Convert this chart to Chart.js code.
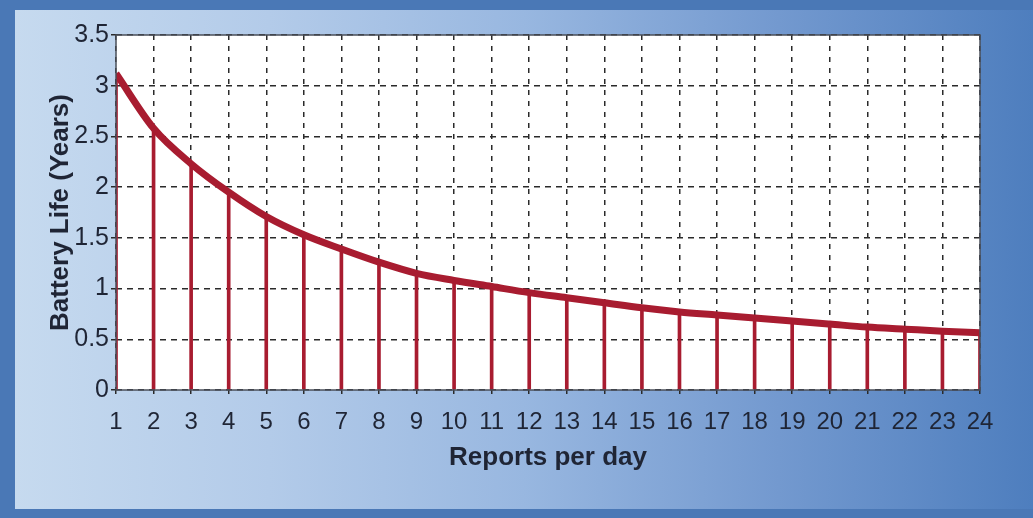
<!DOCTYPE html>
<html>
<head>
<meta charset="utf-8">
<script src="https://cdn.jsdelivr.net/npm/chart.js@4/dist/chart.umd.min.js"></script>
<style>
  html, body { margin: 0; padding: 0; }
  body { width: 1033px; height: 518px; background: #4a78b6; position: relative; overflow: hidden; font-family: "Liberation Sans", Arial, sans-serif; }
  .panel {
    position: absolute; left: 15px; top: 10px; width: 1018px; height: 499px;
    background: linear-gradient(to right, #c6daef 0%, #b3cbe9 25%, #98b7e0 50%, #7399cf 75%, #4e7ebe 100%);
  }
  .wrap { position: absolute; left: 0; top: 0; width: 1033px; height: 518px; }
</style>
</head>
<body>
<div class="panel"></div>
<div class="wrap"><canvas id="chart" width="1033" height="518"></canvas></div>
<script>
// reports per day -> battery life (years)
const reportsPerDay = [1, 2, 3, 4, 5, 6, 7, 8, 9, 10, 11, 12, 13, 14, 15, 16, 17, 18, 19, 20, 21, 22, 23, 24];
const batteryYears = [3.12, 2.58, 2.23, 1.95, 1.71, 1.53, 1.39, 1.26, 1.15, 1.08, 1.02, 0.96, 0.91, 0.86, 0.81, 0.77, 0.74, 0.71, 0.68, 0.65, 0.62, 0.60, 0.58, 0.565];
const yTicks = [0, 0.5, 1, 1.5, 2, 2.5, 3, 3.5];

const RED = "#a81c30";
const INK = "#1f2535";

const points = reportsPerDay.map((x, i) => ({ x, y: batteryYears[i] }));

// white plot area + frame on all four sides
const frame = {
  id: "frame",
  beforeDraw(chart) {
    const { ctx, chartArea: a } = chart;
    ctx.save();
    ctx.fillStyle = "#ffffff";
    ctx.fillRect(a.left, a.top, a.right - a.left, a.bottom - a.top);
    ctx.restore();
  },
  afterDatasetsDraw(chart) {
    const { ctx, chartArea: a } = chart;
    ctx.save();
    ctx.strokeStyle = "#4a4f5a";
    ctx.lineWidth = 1.5;
    ctx.strokeRect(a.left, a.top, a.right - a.left, a.bottom - a.top);
    ctx.restore();
  },
};

new Chart(document.getElementById("chart"), {
  data: {
    datasets: [
      {
        type: "bar", data: points, backgroundColor: RED, barThickness: 3,
        borderWidth: 0, order: 2,
      },
      {
        type: "line", data: points, borderColor: RED, borderWidth: 7,
        pointRadius: 0, cubicInterpolationMode: "monotone", fill: false, order: 1,
      },
    ],
  },
  options: {
    responsive: false,
    animation: false,
    layout: { padding: { left: 41, top: 35, right: 53, bottom: 41 } },
    plugins: { legend: { display: false }, tooltip: { enabled: false } },
    scales: {
      x: {
        type: "linear", min: 1, max: 24, offset: false,
        afterBuildTicks: (s) => { s.ticks = reportsPerDay.map((v) => ({ value: v })); },
        afterFit: (s) => { s.height = 87; },
        ticks: { color: INK, font: { size: 24, family: "Liberation Sans" }, padding: 14, maxRotation: 0, autoSkip: false },
        grid: { offset: false, color: "#2a2a2a", lineWidth: 1.5, tickLength: 4 },
        border: { display: false, dash: [5, 6] },
        title: { display: true, text: "Reports per day", color: INK, font: { size: 26, weight: "bold", family: "Liberation Sans" }, padding: { top: 4, bottom: 4 } },
      },
      y: {
        type: "linear", min: 0, max: 3.5,
        afterBuildTicks: (s) => { s.ticks = yTicks.map((v) => ({ value: v })); },
        afterFit: (s) => { s.width = 75; },
        ticks: { color: INK, font: { size: 25, family: "Liberation Sans" }, padding: 2, callback: (v) => String(v) },
        grid: { color: "#2a2a2a", lineWidth: 1.5, tickLength: 5 },
        border: { display: false, dash: [6, 5] },
        title: { display: true, text: "Battery Life (Years)", color: INK, font: { size: 26, weight: "bold", family: "Liberation Sans" }, padding: { top: 4, bottom: 4 } },
      },
    },
  },
  plugins: [frame],
});
</script>
</body>
</html>
